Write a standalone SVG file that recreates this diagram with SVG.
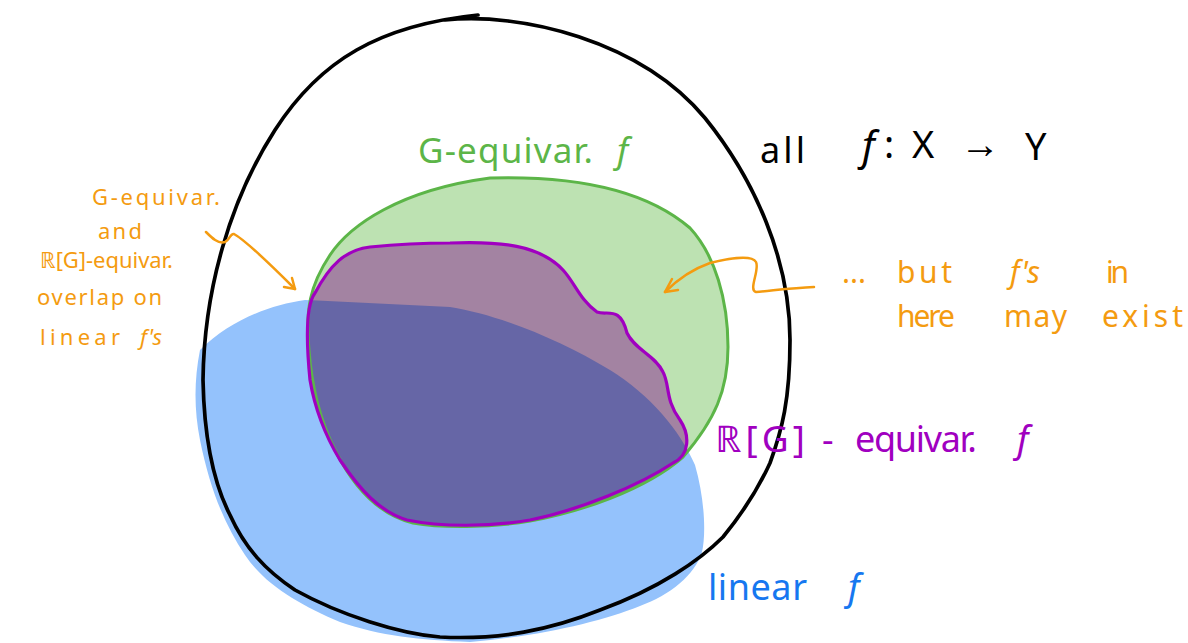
<svg xmlns="http://www.w3.org/2000/svg" width="1188" height="643" viewBox="0 0 1188 643">
<style>
.hand{font-family:"Noto Sans","Open Sans","Liberation Sans",sans-serif;}
.or{fill:#f49b10;}
.gr{fill:#5cb548;}
.pu{fill:#a000c0;}
.bl{fill:#1677f0;}
.bk{fill:#000;}
.arr{fill:none;stroke:#f49b10;stroke-width:2.5;stroke-linecap:round;stroke-linejoin:round;}
</style>
<defs>
<path id="pBlue" d="M200 350 C230 320 270 305 305 300 L450 307 C500 315 560 340 610 370 C650 395 680 430 695 465 C705 500 706 535 702 552 C695 575 670 595 640 606 C600 622 540 636 470 642 C420 640 380 636 340 622 C300 605 265 585 245 555 C225 525 210 490 200 440 C194 410 194 380 200 350 Z"/>
<path id="pGreen" d="M490 178 C560 176 640 185 690 228 C715 255 728 300 728 347 C728 390 715 420 683 457 C645 490 580 512 530 521 C490 528 440 528 413 523 C380 515 355 490 335 450 C320 420 312 390 309 350 C305 310 310 285 330 255 C350 225 400 190 490 178 Z"/>
<path id="pPurple" d="M450 243 C500 241 540 245 563 270 C575 283 580 300 597 312 C607 316 620 305 627 333 C635 350 655 355 663 372 C670 385 665 400 680 420 C690 435 690 455 673 463 C640 485 580 510 530 520 C490 527 440 527 407 520 C380 512 360 490 340 460 C325 435 315 410 310 380 C306 340 306 305 315 293 C330 265 345 250 370 247 C400 244 425 243 450 243 Z"/>
<clipPath id="cGreen"><use href="#pGreen"/></clipPath>
</defs>

<g id="linear-set">
<use href="#pBlue" fill="#94c2fc"/>
</g>
<g id="g-equivar-set">
<use href="#pGreen" fill="#bde2b2"/>
</g>
<g id="rg-equivar-set">
<use href="#pPurple" fill="#a383a2"/>
</g>
<g id="overlap">
<use href="#pBlue" fill="#6666a6" clip-path="url(#cGreen)"/>
</g>
<g id="outlines">
<use href="#pGreen" fill="none" stroke="#5cb548" stroke-width="3"/>
<use href="#pPurple" fill="none" stroke="#a000c0" stroke-width="3.2"/>
</g>
<g id="all-functions">
<path d="M445 20 C520 12 640 40 705 118 C755 180 790 260 790 340 C790 400 782 430 770 463 C760 485 745 510 723 537 C700 560 660 588 600 610 C550 630 500 640 440 637 C400 634 340 615 295 590 C265 570 245 548 230 515 C212 480 204 430 203 380 C204 290 230 200 275 130 C320 60 380 25 478 15" fill="none" stroke="#000" stroke-width="3.7" stroke-linecap="round"/>
</g>

<g id="connectors">
<path class="arr" d="M206 232 C212 238 218 244 225 242 C230 240 230 233 234 234 C245 240 270 264 295 289"/>
<path class="arr" d="M284 287 L295 289 L292 278"/>
<path class="arr" d="M814 287 C790 288 770 291 756 292 C748 290 760 270 756 262 C752 255 730 258 710 263 C690 270 675 282 665 292"/>
<path class="arr" d="M672 279 L665 292 L678 290"/>
</g>

<g id="labels" class="hand">
<text class="gr" x="418" y="163" font-size="35" textLength="175" lengthAdjust="spacing">G-equivar.</text>
<text class="gr" x="617" y="163" font-size="35" font-style="italic">f</text>

<text class="bk" x="760" y="163" font-size="36" textLength="45" lengthAdjust="spacing">all</text>
<text class="bk" x="862" y="160" font-size="40" font-style="italic">f</text>
<text class="bk" x="884" y="158" font-size="38">:</text>
<text class="bk" x="912" y="158" font-size="38">X</text>
<text class="bk" x="960" y="158" font-size="40">→</text>
<text class="bk" x="1025" y="160" font-size="38">Y</text>

<text class="or" x="92" y="205" font-size="22" textLength="128" lengthAdjust="spacing">G-equivar.</text>
<text class="or" x="98" y="239" font-size="22" textLength="44" lengthAdjust="spacing">and</text>
<text class="or" x="40" y="268" font-size="22" textLength="133" lengthAdjust="spacing">ℝ[G]-equivar.</text>
<text class="or" x="37" y="305" font-size="22" textLength="125" lengthAdjust="spacing">overlap  on</text>
<text class="or" x="40" y="345" font-size="22" textLength="80" lengthAdjust="spacing">linear</text>
<text class="or" x="140" y="345" font-size="22" font-style="italic">f's</text>

<text class="or" x="842" y="283" font-size="30">...</text>
<text class="or" x="897" y="283" font-size="30" textLength="55" lengthAdjust="spacing">but</text>
<text class="or" x="1010" y="283" font-size="30" font-style="italic">f's</text>
<text class="or" x="1106" y="283" font-size="30" textLength="23" lengthAdjust="spacing">in</text>
<text class="or" x="897" y="327" font-size="30" textLength="58" lengthAdjust="spacing">here</text>
<text class="or" x="1004" y="327" font-size="30" textLength="63" lengthAdjust="spacing">may</text>
<text class="or" x="1102" y="327" font-size="30" textLength="81" lengthAdjust="spacing">exist</text>

<text class="pu" x="715" y="452" font-size="37" textLength="90" lengthAdjust="spacing">ℝ[G]</text>
<text class="pu" x="822" y="452" font-size="36">-</text>
<text class="pu" x="855" y="452" font-size="36" textLength="122" lengthAdjust="spacing">equivar.</text>
<text class="pu" x="1017" y="452" font-size="36" font-style="italic">f</text>

<text class="bl" x="708" y="600" font-size="36" textLength="99" lengthAdjust="spacing">linear</text>
<text class="bl" x="848" y="600" font-size="36" font-style="italic">f</text>
</g>
</svg>
